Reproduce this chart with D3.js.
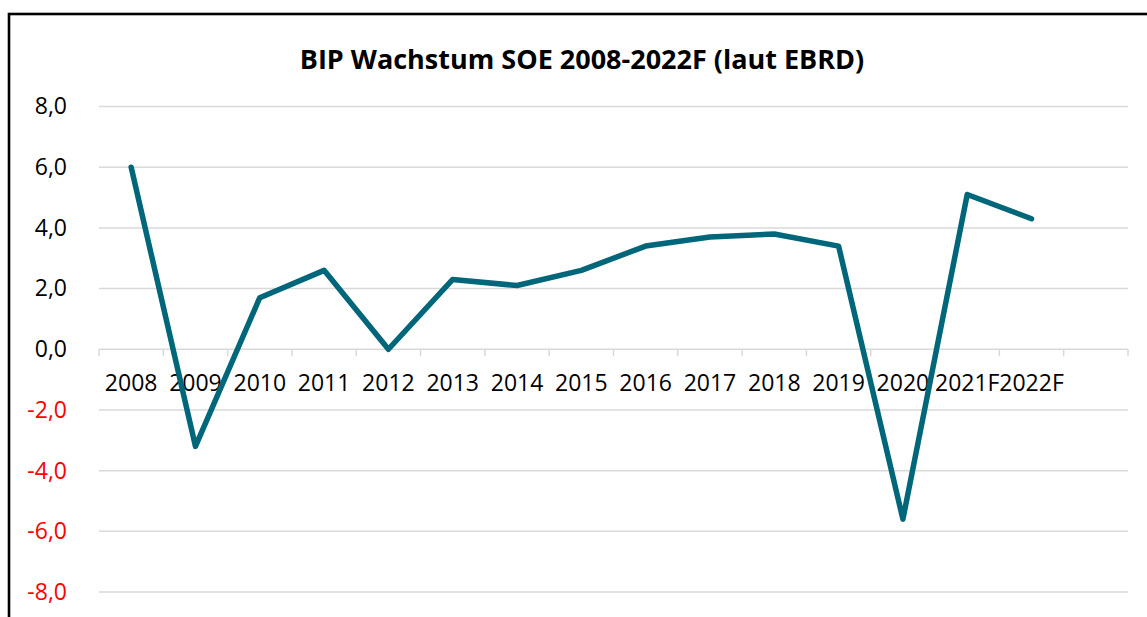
<!DOCTYPE html>
<html>
<head>
<meta charset="utf-8">
<script src="https://cdn.jsdelivr.net/npm/d3@7"></script>
<style>
  body { margin: 0; background: #fff; }
  svg { display: block; font-family: "Open Sans", sans-serif; }
</style>
</head>
<body>
<script>
// chart data
var categories = ["2008", "2009", "2010", "2011", "2012", "2013", "2014", "2015",
                  "2016", "2017", "2018", "2019", "2020", "2021F", "2022F"];
var growth = [6.0, -3.2, 1.7, 2.6, 0.0, 2.3, 2.1, 2.6, 3.4, 3.7, 3.8, 3.4, -5.6, 5.1, 4.3];
var yTicks = [-8, -6, -4, -2, 0, 2, 4, 6, 8];
var titleText = "BIP Wachstum SOE 2008-2022F (laut EBRD)";

var width = 1147,
    height = 617;

var svg = d3.select("body")
    .append("svg")
    .attr("width", width)
    .attr("height", height);

//chart frame (right and bottom run off the picture)
svg.append("rect")
    .attr("x", 9)
    .attr("y", 14)
    .attr("width", 1160)
    .attr("height", 640)
    .attr("fill", "#fff")
    .attr("stroke", "#000")
    .attr("stroke-width", 2.6);

//the excel sheet has one empty row after 2022F, so the axis has 16 slots
var x = d3.scaleBand()
    .domain(categories.concat([""]))
    .range([99, 1128]);

var y = d3.scaleLinear()
    .domain([-8, 8])
    .range([592, 106.5]);

//title
svg.append("text")
    .attr("x", 582)
    .attr("y", 69)
    .attr("text-anchor", "middle")
    .attr("font-weight", "bold")
    .attr("font-size", 27)
    .attr("fill", "#000")
    .text(titleText);

//horizontal gridlines
svg.selectAll(".grid")
    .data(yTicks)
    .enter()
    .append("line")
    .attr("class", "grid")
    .attr("x1", 99)
    .attr("x2", 1128)
    .attr("y1", function(d){ return y(d); })
    .attr("y2", function(d){ return y(d); })
    .attr("stroke", "#d9d9d9")
    .attr("stroke-width", 1.5);

//y axis labels, negatives in red
var yAxis = d3.axisLeft(y)
    .tickValues(yTicks)
    .tickSize(0)
    .tickPadding(0)
    .tickFormat(function(d){ return d3.format(".1f")(d).replace(".", ",").replace("−", "-"); });

var yG = svg.append("g")
    .attr("transform", "translate(67,0)")
    .call(yAxis);
yG.select(".domain").remove();
yG.selectAll("text")
    .attr("font-family", "Open Sans, sans-serif")
    .attr("font-size", 23)
    .attr("fill", function(d){ return d < 0 ? "#ff0000" : "#000"; });

//category axis sitting on the zero line
var xAxis = d3.axisBottom(x)
    .tickSize(0)
    .tickPadding(25);

var xG = svg.append("g")
    .attr("transform", "translate(0," + y(0) + ")")
    .call(xAxis);
xG.select(".domain").remove();
xG.selectAll("text")
    .attr("font-family", "Open Sans, sans-serif")
    .attr("font-size", 23)
    .attr("fill", "#000");

//tick marks between categories
var bounds = x.domain().map(function(d){ return x(d); }).concat([x.range()[1]]);
xG.selectAll(".sep")
    .data(bounds)
    .enter()
    .append("line")
    .attr("class", "sep")
    .attr("x1", function(d){ return d; })
    .attr("x2", function(d){ return d; })
    .attr("y1", 0)
    .attr("y2", 7)
    .attr("stroke", "#d9d9d9")
    .attr("stroke-width", 1.5);

//growth line
var line = d3.line()
    .x(function(d, i){ return x(categories[i]) + x.bandwidth() / 2; })
    .y(function(d){ return y(d); });

svg.append("path")
    .datum(growth)
    .attr("d", line)
    .attr("fill", "none")
    .attr("stroke", "#00667a")
    .attr("stroke-width", 5.5)
    .attr("stroke-linejoin", "round")
    .attr("stroke-linecap", "round");
</script>
</body>
</html>
